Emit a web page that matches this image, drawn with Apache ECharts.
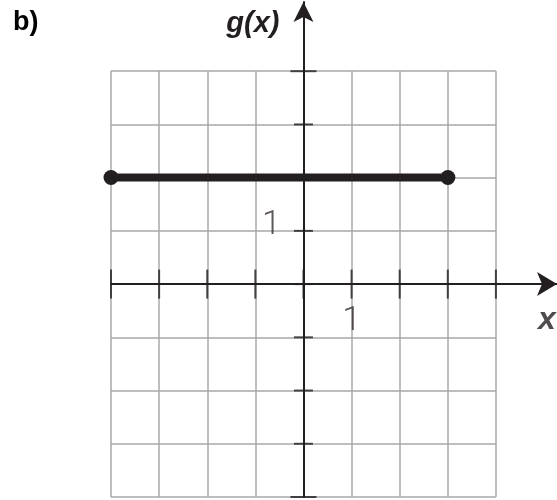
<!DOCTYPE html>
<html>
<head>
<meta charset="utf-8">
<script src="https://cdn.jsdelivr.net/npm/echarts@6/dist/echarts.min.js"></script>
<style>
  html, body { margin: 0; padding: 0; background: #fff; }
  #chart { width: 557px; height: 500px; }
</style>
</head>
<body>
<div id="chart"></div>
<script>
// grid values (both axes run -4..4, one unit per square)
const gridValues = [-4, -3, -2, -1, 0, 1, 2, 3, 4];
const gridMin = -4;
const gridMax = 4;

// axis arrows run a bit past the grid
const xArrowMax = 5.27;
const yArrowMax = 5.3;
const xNameAt = 5.06;

// the segment g(x) = 2 for -4 <= x <= 3
const segX = [-4, 3];
const segY = [2, 2];

// the "1" labels on each axis
const xLabelValues = [1];
const yLabelValues = [1];

const ink = '#231f20';
const gridGray = '#a9a9a9';
const labelFont = { fontFamily: 'Roboto', fontWeight: 300, fontSize: 34, color: '#352d2d' };
const nameFont = { fontFamily: 'Liberation Sans', fontStyle: 'italic', fontWeight: 'bold', color: ink };

const chart = echarts.init(document.getElementById('chart'));

// labels sit on the axes through the chart's own scale
const labelData = [].concat(
  xLabelValues.map(v => ({
    value: [v, 0],
    label: Object.assign({ show: true, position: 'bottom', distance: 20, formatter: String(v) }, labelFont)
  })),
  yLabelValues.map(v => ({
    value: [0, v],
    label: Object.assign({ show: true, position: 'left', distance: 22, offset: [0, -5], formatter: String(v) }, labelFont)
  })),
  [{
    value: [xNameAt, 0],
    label: Object.assign({ show: true, position: 'bottom', distance: 20, fontSize: 32, formatter: 'x' }, nameFont)
  }]
);

const option = {
  backgroundColor: '#fff',
  animation: false,
  title: [
    {
      text: 'b)',
      left: 8,
      top: 4,
      textStyle: { fontFamily: 'Liberation Sans', fontWeight: 'bold', fontSize: 27, color: '#000' }
    }
  ],
  grid: [
    { left: 111, top: 71, width: 385, height: 426, outerBoundsMode: 'none', containLabel: false },
    { left: 111, top: 2, width: 446, height: 495, outerBoundsMode: 'none', containLabel: false }
  ],
  xAxis: [
    {
      gridIndex: 0, type: 'value', min: gridMin, max: gridMax, interval: 1,
      axisLine: { show: false }, axisTick: { show: false }, axisLabel: { show: false },
      splitLine: { show: true, lineStyle: { color: gridGray, width: 1.5 } }
    },
    {
      gridIndex: 1, type: 'value', min: gridMin, max: xArrowMax,
      axisLine: {
        show: true, onZero: true, symbol: ['none', 'arrow'], symbolSize: [18, 20],
        lineStyle: { color: ink, width: 2 }
      },
      axisTick: { show: false },
      axisLabel: { show: false },
      splitLine: { show: false }
    }
  ],
  yAxis: [
    {
      gridIndex: 0, type: 'value', min: gridMin, max: gridMax, interval: 1,
      axisLine: { show: false }, axisTick: { show: false }, axisLabel: { show: false },
      splitLine: { show: true, lineStyle: { color: gridGray, width: 1.5 } }
    },
    {
      gridIndex: 1, type: 'value', min: gridMin, max: yArrowMax,
      axisLine: {
        show: true, onZero: true, symbol: ['none', 'arrow'], symbolSize: [15, 20],
        lineStyle: { color: ink, width: 2 }
      },
      axisTick: { show: false },
      axisLabel: { show: false },
      splitLine: { show: false },
      name: 'g(x)',
      nameLocation: 'end',
      nameGap: -22,
      nameTextStyle: Object.assign({
        fontSize: 29, align: 'right', verticalAlign: 'middle', padding: [0, 24, 0, 0]
      }, nameFont)
    }
  ],
  series: [
    {
      // tick marks crossing the x axis
      type: 'scatter',
      xAxisIndex: 1,
      yAxisIndex: 1,
      data: gridValues.map(v => [v, 0]),
      symbol: 'rect',
      symbolSize: [2, 29],
      itemStyle: { color: ink },
      silent: true,
      z: 3
    },
    {
      // tick marks crossing the y axis
      type: 'scatter',
      xAxisIndex: 1,
      yAxisIndex: 1,
      data: gridValues.map(v => [0, v]),
      symbol: 'rect',
      symbolSize: val => (Math.abs(val[1]) === 4 ? [26, 2] : [19, 2]),
      itemStyle: { color: ink },
      silent: true,
      z: 3
    },
    {
      // the "1" marks and the x name
      type: 'scatter',
      xAxisIndex: 1,
      yAxisIndex: 1,
      data: labelData,
      symbol: 'circle',
      symbolSize: 1,
      itemStyle: { color: 'rgba(0,0,0,0)' },
      silent: true,
      z: 4
    },
    {
      type: 'line',
      xAxisIndex: 0,
      yAxisIndex: 0,
      data: segX.map((x, i) => [x, segY[i]]),
      symbol: 'circle',
      symbolSize: 15,
      showAllSymbol: true,
      lineStyle: { color: ink, width: 8 },
      itemStyle: { color: ink },
      z: 10
    }
  ]
};

chart.setOption(option);
</script>
</body>
</html>
